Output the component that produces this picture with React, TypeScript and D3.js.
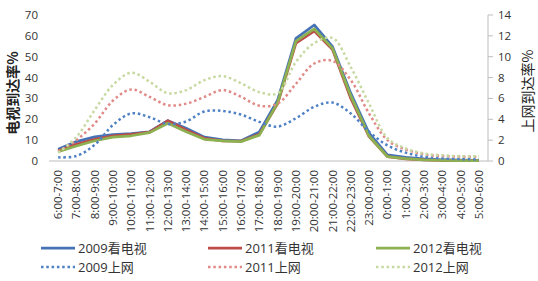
import React from "react";
import * as d3 from "d3";

const categories = [
  "6:00-7:00", "7:00-8:00", "8:00-9:00", "9:00-10:00", "10:00-11:00", "11:00-12:00",
  "12:00-13:00", "13:00-14:00", "14:00-15:00", "15:00-16:00", "16:00-17:00", "17:00-18:00",
  "18:00-19:00", "19:00-20:00", "20:00-21:00", "21:00-22:00", "22:00-23:00", "23:00-0:00",
  "0:00-1:00", "1:00-2:00", "2:00-3:00", "3:00-4:00", "4:00-5:00", "5:00-6:00",
];

const tv2009 = [5.6, 9.3, 11.6, 12.6, 13.1, 14.0, 19.3, 15.7, 11.4, 10.1, 9.7, 13.9, 29.2, 58.8, 65.2, 54.8, 32.4, 13.3, 2.9, 1.8, 1.0, 0.6, 0.4, 0.3];
const tv2011 = [4.9, 8.0, 10.4, 12.1, 12.8, 13.8, 19.3, 14.9, 10.9, 9.7, 9.5, 12.8, 27.5, 56.5, 62.3, 53.5, 30.0, 11.7, 2.1, 1.0, 0.5, 0.3, 0.2, 0.2];
const tv2012 = [4.5, 7.2, 9.7, 11.4, 12.1, 13.6, 18.1, 14.0, 10.4, 9.6, 9.3, 12.4, 28.0, 57.5, 63.3, 54.0, 31.2, 12.0, 2.1, 1.1, 0.5, 0.3, 0.2, 0.2];

const net2009 = [0.35, 0.48, 1.55, 3.45, 4.57, 4.2, 3.55, 3.8, 4.75, 4.8, 4.45, 3.75, 3.3, 4.1, 5.2, 5.6, 4.55, 2.8, 1.5, 0.8, 0.4, 0.25, 0.18, 0.15];
const net2011 = [0.9, 2.0, 3.6, 5.8, 6.86, 6.15, 5.35, 5.5, 6.15, 6.8, 6.15, 5.3, 5.5, 7.4, 9.35, 9.6, 7.75, 4.55, 2.0, 1.1, 0.65, 0.48, 0.42, 0.42];
const net2012 = [0.8, 2.3, 4.9, 7.3, 8.46, 7.6, 6.5, 6.8, 7.75, 8.14, 7.45, 6.6, 6.5, 9.5, 11.3, 11.8, 9.0, 5.5, 2.2, 1.2, 0.72, 0.55, 0.45, 0.45];

const leftTicks = [0, 10, 20, 30, 40, 50, 60, 70];
const rightTicks = [0, 2, 4, 6, 8, 10, 12, 14];

const seriesNames = ["2009看电视", "2011看电视", "2012看电视", "2009上网", "2011上网", "2012上网"];
const leftTitle = "电视到达率%";
const rightTitle = "上网到达率%";

const BLUE = "#4573b6";
const RED = "#be4b48";
const GREEN = "#8db150";
const BLUE_D = "#4f81c4";
const RED_D = "#e08a88";
const GREEN_D = "#c6d9a0";

const FONT = "'Open Sans', 'Noto Sans CJK SC', sans-serif";
const CJK = "'Noto Sans CJK SC', 'Open Sans', sans-serif";

export default function App() {
  const W = 538, H = 281;
  const x = d3.scaleBand<string>().domain(categories).range([49, 488]);
  const cx = (c: string) => (x(c) as number) + x.bandwidth() / 2;
  const yL = d3.scaleLinear().domain([0, 70]).range([161, 15]);
  const yR = d3.scaleLinear().domain([0, 14]).range([161, 15]);

  const lineL = d3.line<number>().x((_, i) => cx(categories[i])).y((d) => yL(d));
  const lineR = d3
    .line<number>()
    .x((_, i) => cx(categories[i]))
    .y((d) => yR(d))
    .curve(d3.curveCatmullRom.alpha(0.5));

  const solid = [
    { data: tv2009, color: BLUE },
    { data: tv2011, color: RED },
    { data: tv2012, color: GREEN },
  ];
  const dotted = [
    { data: net2009, color: BLUE_D },
    { data: net2011, color: RED_D },
    { data: net2012, color: GREEN_D },
  ];

  const legendCols = [41, 208, 376];
  const legendRows = [248, 267];
  const legendItems = seriesNames.map((name, i) => ({
    name,
    col: legendCols[i % 3],
    row: legendRows[Math.floor(i / 3)],
    color: [BLUE, RED, GREEN, BLUE_D, RED_D, GREEN_D][i],
    dotted: i >= 3,
  }));

  return (
    <svg
      width={W}
      height={H}
      style={{ position: "absolute", left: 0, top: 0, background: "#fff" }}
    >
      {/* axes */}
      <line x1={49} x2={488} y1={161} y2={161} stroke="#bdbdbd" strokeWidth={1} />
      <line x1={488} x2={488} y1={15} y2={161} stroke="#bdbdbd" strokeWidth={1} />
      {rightTicks.map((t) => (
        <line key={"rt" + t} x1={488} x2={493} y1={yR(t)} y2={yR(t)} stroke="#bdbdbd" />
      ))}
      {leftTicks.map((t) => (
        <text
          key={"lt" + t}
          x={38}
          y={yL(t)}
          dy="0.35em"
          textAnchor="end"
          fontFamily={FONT}
          fontSize={11.5}
          fill="#333"
        >
          {t}
        </text>
      ))}
      {rightTicks.map((t) => (
        <text
          key={"rl" + t}
          x={498}
          y={yR(t)}
          dy="0.35em"
          textAnchor="start"
          fontFamily={FONT}
          fontSize={11.5}
          fill="#333"
        >
          {t}
        </text>
      ))}
      {categories.map((c) => (
        <text
          key={c}
          transform={`translate(${cx(c) + 4},170) rotate(-90)`}
          textAnchor="end"
          fontFamily={FONT}
          fontSize={11.5}
          fill="#333"
        >
          {c}
        </text>
      ))}
      {/* titles */}
      <text
        transform="translate(18,93) rotate(-90)"
        textAnchor="middle"
        fontFamily={CJK}
        fontWeight="bold"
        fontSize={14}
        fill="#222"
      >
        {leftTitle}
      </text>
      <text
        transform="translate(533,91) rotate(-90)"
        textAnchor="middle"
        fontFamily={CJK}
        fontSize={14}
        fill="#222"
      >
        {rightTitle}
      </text>
      {/* series */}
      {solid.map((s, i) => (
        <path
          key={"s" + i}
          d={lineL(s.data) as string}
          fill="none"
          stroke={s.color}
          strokeWidth={2.75}
          strokeLinejoin="round"
        />
      ))}
      {dotted.map((s, i) => (
        <path
          key={"d" + i}
          d={lineR(s.data) as string}
          fill="none"
          stroke={s.color}
          strokeWidth={2.5}
          strokeDasharray="2.5,2.8"
        />
      ))}
      {/* legend */}
      {legendItems.map((it) => (
        <g key={it.name}>
          <line
            x1={it.col}
            x2={it.col + 34}
            y1={it.row}
            y2={it.row}
            stroke={it.color}
            strokeWidth={it.dotted ? 2.5 : 2.75}
            strokeDasharray={it.dotted ? "2.5,2.8" : undefined}
          />
          <text
            x={it.col + 37}
            y={it.row}
            dy="0.36em"
            fontFamily={FONT}
            fontSize={13}
            fill="#333"
          >
            {it.name}
          </text>
        </g>
      ))}
    </svg>
  );
}
